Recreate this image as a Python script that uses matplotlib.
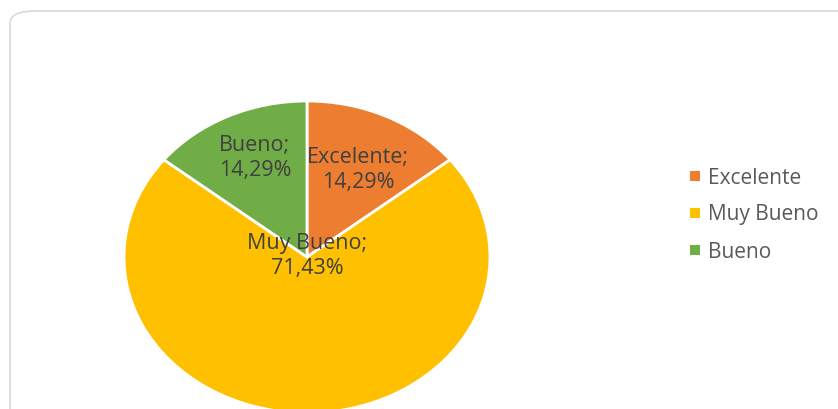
import matplotlib
matplotlib.use("Agg")
import matplotlib.pyplot as plt
from matplotlib.patches import FancyBboxPatch, Rectangle

categorias = ["Excelente", "Muy Bueno", "Bueno"]
valores = [14.29, 71.43, 14.29]
colores = ["#ED7D31", "#FFC000", "#70AD47"]

plt.rcParams['font.family'] = ['Open Sans', 'DejaVu Sans']

W, H = 838, 410
fig = plt.figure(figsize=(W / 100, H / 100), dpi=100)
fig.patch.set_facecolor("white")

# marco redondeado del grafico (sale por la derecha y por abajo)
marco = FancyBboxPatch((10 / W, -30 / H), 860 / W, 428 / H,
                       boxstyle="round,pad=0,rounding_size=0.03",
                       transform=fig.transFigure, facecolor="white",
                       edgecolor="#D9D9D9", linewidth=1.2, clip_on=False,
                       zorder=-10)
fig.patches.append(marco)

# ejes en pixeles: centro (307, 258), radios 183 x 156
cx, cy, rx, ry = 307, 258, 183, 156
ax = fig.add_axes([(cx - rx) / W, (H - cy - ry) / H, 2 * rx / W, 2 * ry / H])
ax.pie(valores, colors=colores, startangle=90, counterclock=False,
       wedgeprops=dict(edgecolor="white", linewidth=2), radius=1)
ax.set_aspect("auto")
ax.set_xlim(-1, 1)
ax.set_ylim(-1, 1)
ax.axis("off")

# etiquetas de datos
pos_etiquetas = [(0.28, 0.567), (0.0, 0.015), (-0.285, 0.64)]
for cat, val, (x, y) in zip(categorias, valores, pos_etiquetas):
    txt = f"{cat};\n{val:.2f}%".replace(".", ",")
    ax.text(x, y, txt, ha="center", va="center", fontsize=15.5,
            color="#404040", linespacing=1.25)

# leyenda
ly = [178, 215, 252]
for cat, col, y in zip(categorias, colores, ly):
    fig.patches.append(Rectangle((690 / W, (H - y - 4) / H), 10 / W, 10 / H,
                                 transform=fig.transFigure, facecolor=col,
                                 edgecolor="none"))
    fig.text(708 / W, (H - y) / H, cat, ha="left", va="center",
             fontsize=15, color="#595959")

fig.savefig("out.png", dpi=100)
